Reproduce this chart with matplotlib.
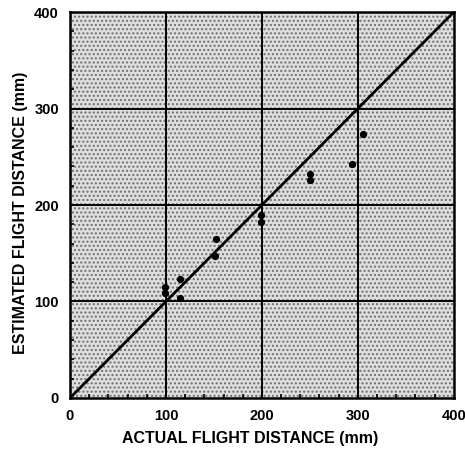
import numpy as np
import matplotlib.pyplot as plt
from matplotlib.ticker import MultipleLocator

# 实际 / 估计飞行距离 (mm)
actual_mm = [99, 99, 115, 115, 151, 152, 199, 199, 250, 250, 294, 305]
estimated_mm = [115, 109, 123, 104, 147, 165, 190, 182, 232, 226, 242, 274]

ticks = [0, 100, 200, 300, 400]
x_label = "ACTUAL FLIGHT DISTANCE (mm)"
y_label = "ESTIMATED FLIGHT DISTANCE (mm)"

plt.rcParams["font.family"] = ["Liberation Sans", "DejaVu Sans"]
plt.rcParams["font.weight"] = "bold"

fig = plt.figure(figsize=(4.65, 4.55), dpi=100)
ax = fig.add_axes([0.1505, 0.1253, 0.8255, 0.8483])

# 点状灰色背景
ax.set_facecolor("#dedede")
ax.add_patch(plt.Rectangle((0, 0), 400, 400, facecolor="none", edgecolor="#6e6e6e",
                           hatch="....", linewidth=0, zorder=0))

# 网格线
for t in ticks[1:-1]:
    ax.axvline(t, color="black", lw=1.4, zorder=1)
    ax.axhline(t, color="black", lw=1.4, zorder=1)

# 1:1 对角线
ax.plot([0, 400], [0, 400], color="black", lw=2.0, zorder=2)

# 数据点
ax.plot(actual_mm, estimated_mm, "o", color="black", markersize=4.2, zorder=3)

ax.set_xlim(0, 400)
ax.set_ylim(0, 400)
ax.set_xticks(ticks)
ax.set_yticks(ticks)
ax.xaxis.set_minor_locator(MultipleLocator(20))
ax.yaxis.set_minor_locator(MultipleLocator(20))
ax.tick_params(which="major", length=0, pad=8, labelsize=10.5)
ax.tick_params(which="minor", direction="in", length=3, width=1.2)
for lab in ax.get_xticklabels() + ax.get_yticklabels():
    lab.set_fontweight("bold")

for s in ax.spines.values():
    s.set_linewidth(1.8)

ax.set_xlabel(x_label, fontsize=11.5, fontweight="bold")
ax.set_ylabel(y_label, fontsize=11.5, fontweight="bold")
ax.xaxis.set_label_coords(0.47, -0.085)
ax.yaxis.set_label_coords(-0.11, 0.48)

fig.savefig("out.png", dpi=100)
